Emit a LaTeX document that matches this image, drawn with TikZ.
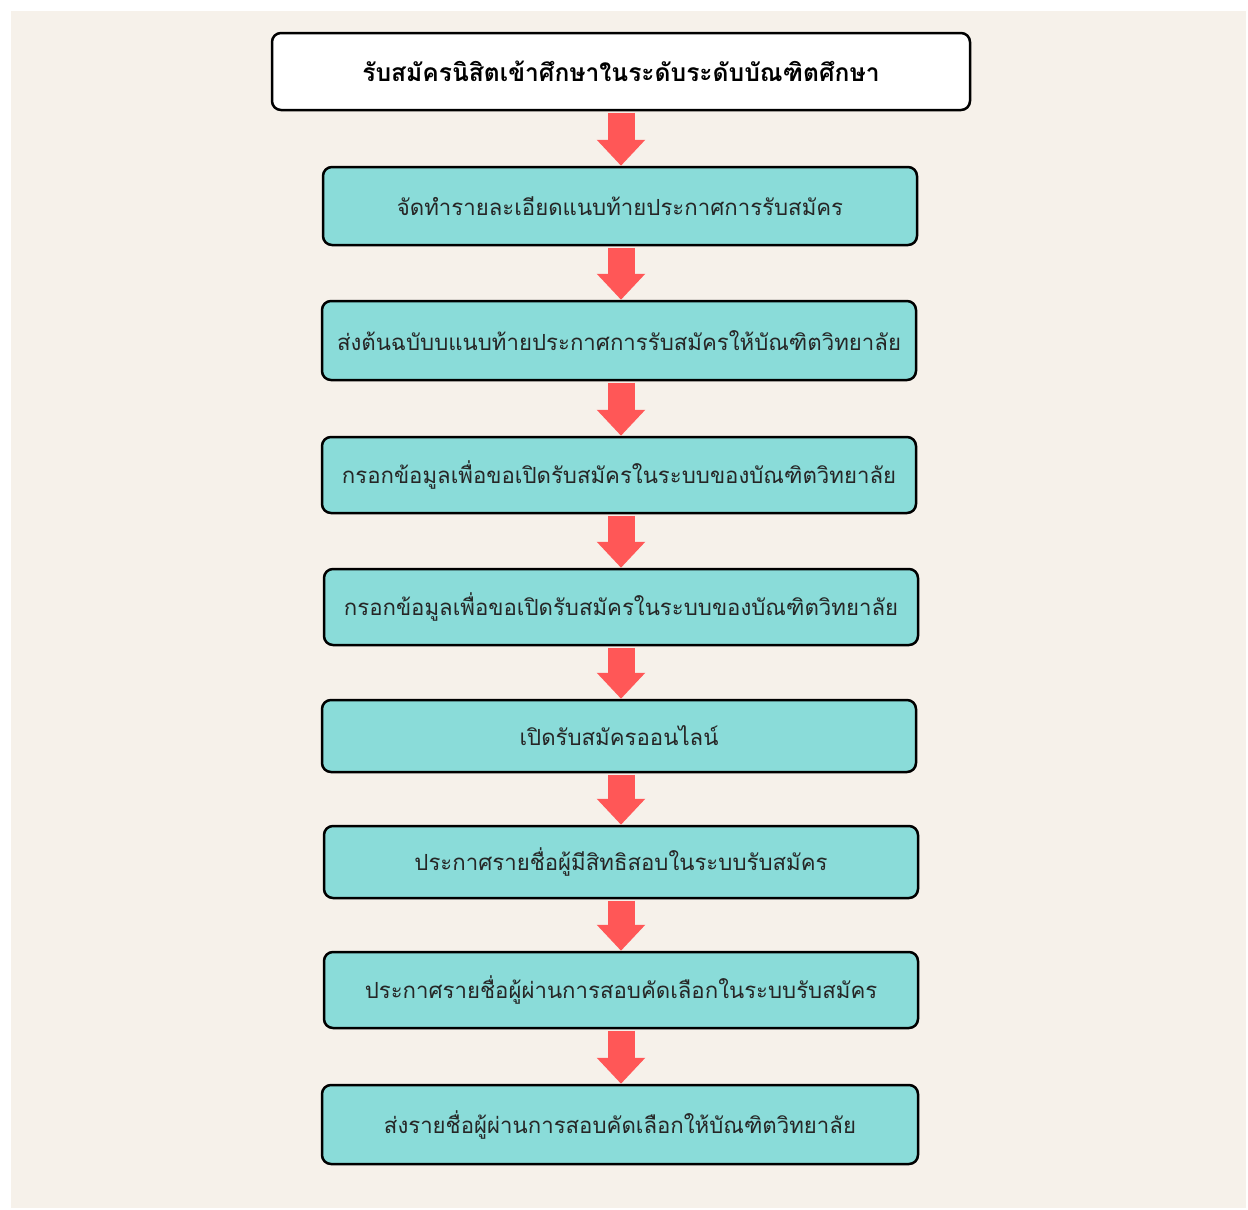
\documentclass[tikz,border=0pt]{standalone}
\usepackage{fontspec}
\usetikzlibrary{arrows.meta}
\newfontfamily\thaifont[Script=Thai]{Loma}
\definecolor{bgbeige}{HTML}{F6F1EA}
\definecolor{boxteal}{HTML}{8ADCD9}
\definecolor{arrred}{HTML}{FF5757}
\tikzset{
  stepbox/.style={draw=black, line width=2.5pt, rounded corners=9pt, fill=boxteal,
    minimum width=594pt, minimum height=76pt, inner sep=0pt,
    font=\thaifont\fontsize{22.2}{26}\selectfont, text=black!85},
  titlebox/.style={stepbox, fill=white, minimum width=698pt, minimum height=77pt,
    font=\thaifont\bfseries\fontsize{24.6}{28}\selectfont, text=black},
  flowarrow/.style={draw=arrred, line width=27pt,
    -{Triangle[width=47pt,length=26pt]}, arrred, shorten <=1.5pt}
}
\begin{document}
\begin{tikzpicture}[x=1pt,y=-1pt]
\useasboundingbox (0,0) rectangle (1248,1210);
\fill[white] (0,0) rectangle (1248,1210);
\fill[bgbeige] (11,11) rectangle (1246,1208);
\coordinate (ax) at (621,0);
\node[titlebox] (t) at (621,71.5) {รับสมัครนิสิตเข้าศึกษาในระดับระดับบัณฑิตศึกษา};
\node[stepbox, minimum height=78pt] (s1) at (620,206) {จัดทำรายละเอียดแนบท้ายประกาศการรับสมัคร};
\node[stepbox, minimum height=79pt] (s2) at (619,340.5) {ส่งต้นฉบับบแนบท้ายประกาศการรับสมัครให้บัณฑิตวิทยาลัย};
\node[stepbox] (s3) at (619,475) {กรอกข้อมูลเพื่อขอเปิดรับสมัครในระบบของบัณฑิตวิทยาลัย};
\node[stepbox] (s4) at (621,607) {กรอกข้อมูลเพื่อขอเปิดรับสมัครในระบบของบัณฑิตวิทยาลัย};
\node[stepbox, minimum height=72pt] (s5) at (619,736) {เปิดรับสมัครออนไลน์};
\node[stepbox, minimum height=72pt] (s6) at (621,862) {ประกาศรายชื่อผู้มีสิทธิสอบในระบบรับสมัคร};
\node[stepbox] (s7) at (621,990) {ประกาศรายชื่อผู้ผ่านการสอบคัดเลือกในระบบรับสมัคร};
\node[stepbox, minimum width=596pt, minimum height=79pt] (s8) at (620,1124.5) {ส่งรายชื่อผู้ผ่านการสอบคัดเลือกให้บัณฑิตวิทยาลัย};
\foreach \a/\b in {t/s1,s1/s2,s2/s3,s3/s4,s4/s5,s5/s6,s6/s7,s7/s8}{
  \draw[flowarrow] (\a.south -| ax) -- (\b.north -| ax);
}
\end{tikzpicture}
\end{document}
